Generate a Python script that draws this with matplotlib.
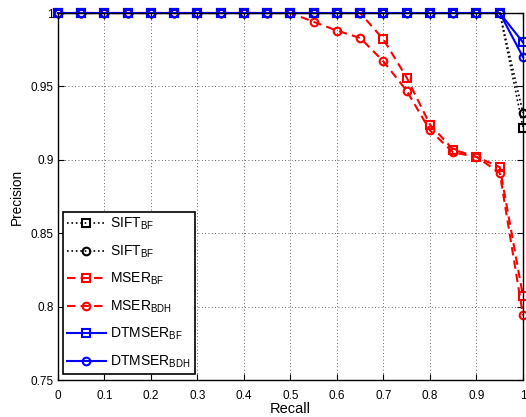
import matplotlib
matplotlib.use("Agg")
import matplotlib.pyplot as plt
from matplotlib.ticker import FuncFormatter

plt.rcParams['font.family'] = ['Liberation Sans', 'DejaVu Sans']
plt.rcParams['mathtext.fontset'] = 'custom'
plt.rcParams['mathtext.rm'] = 'Liberation Sans'
plt.rcParams['mathtext.it'] = 'Liberation Sans'

recall = [0, 0.05, 0.1, 0.15, 0.2, 0.25, 0.3, 0.35, 0.4, 0.45, 0.5,
          0.55, 0.6, 0.65, 0.7, 0.75, 0.8, 0.85, 0.9, 0.95, 1]

sift_bf = [1, 1, 1, 1, 1, 1, 1, 1, 1, 1, 1, 1, 1, 1, 1, 1, 1, 1, 1, 1, 0.922]
sift_bdh = [1, 1, 1, 1, 1, 1, 1, 1, 1, 1, 1, 1, 1, 1, 1, 1, 1, 1, 1, 1, 0.932]
mser_bf = [1, 1, 1, 1, 1, 1, 1, 1, 1, 1, 1, 1, 1, 1,
           0.982, 0.956, 0.924, 0.907, 0.902, 0.895, 0.807]
mser_bdh = [1, 1, 1, 1, 1, 1, 1, 1, 1, 1, 1,
            0.994, 0.988, 0.983, 0.967, 0.947, 0.920, 0.905, 0.902, 0.891, 0.794]
dtmser_bf = [1, 1, 1, 1, 1, 1, 1, 1, 1, 1, 1, 1, 1, 1, 1, 1, 1, 1, 1, 1, 0.980]
dtmser_bdh = [1, 1, 1, 1, 1, 1, 1, 1, 1, 1, 1, 1, 1, 1, 1, 1, 1, 1, 1, 1, 0.970]

labels = [r'SIFT$_{\mathrm{BF}}$', r'SIFT$_{\mathrm{BF}}$',
          r'MSER$_{\mathrm{BF}}$', r'MSER$_{\mathrm{BDH}}$',
          r'DTMSER$_{\mathrm{BF}}$', r'DTMSER$_{\mathrm{BDH}}$']

fig = plt.figure(figsize=(5.26, 4.17), dpi=100)
ax = fig.add_axes([0.110, 0.0887, 0.8843, 0.8801])

common = dict(markersize=5.5, markeredgewidth=1.5, markerfacecolor='none', clip_on=False)
ax.plot(recall, sift_bf, color='k', linestyle=':', linewidth=1.2, marker='s', label=labels[0], **common)
ax.plot(recall, sift_bdh, color='k', linestyle=':', linewidth=1.2, marker='o', label=labels[1], **common)
ax.plot(recall, mser_bf, color='r', linestyle='--', dashes=(4, 2.5), linewidth=1.5, marker='s', label=labels[2], **common)
ax.plot(recall, mser_bdh, color='r', linestyle='--', dashes=(4, 2.5), linewidth=1.5, marker='o', label=labels[3], **common)
ax.plot(recall, dtmser_bf, color='b', linestyle='-', linewidth=1.5, marker='s', label=labels[4], **common)
ax.plot(recall, dtmser_bdh, color='b', linestyle='-', linewidth=1.5, marker='o', label=labels[5], **common)

ax.set_xlim(0, 1)
ax.set_ylim(0.75, 1)
ax.set_xticks([0, 0.1, 0.2, 0.3, 0.4, 0.5, 0.6, 0.7, 0.8, 0.9, 1])
ax.set_yticks([0.75, 0.8, 0.85, 0.9, 0.95, 1])
fmt = FuncFormatter(lambda v, p: '%g' % round(v, 2))
ax.xaxis.set_major_formatter(fmt)
ax.yaxis.set_major_formatter(fmt)
ax.tick_params(direction='in', length=4, width=0.8, labelsize=8.5, top=True, right=True)
ax.tick_params(axis='x', pad=7)
ax.tick_params(axis='y', pad=3)
ax.grid(True, linestyle=(0, (1, 3)), color='#333333', linewidth=0.6)
for s in ax.spines.values():
    s.set_linewidth(1.0)

ax.set_xlabel('Recall', fontsize=10.5, labelpad=0)
ax.set_ylabel('Precision', fontsize=9.8, labelpad=5)

leg = ax.legend(loc='lower left', bbox_to_anchor=(0.0108, 0.016), borderaxespad=0,
                fontsize=10, fancybox=False, framealpha=1, edgecolor='k',
                handlelength=2.8, labelspacing=0.8, borderpad=0.3, handletextpad=0.3)
leg.get_frame().set_linewidth(1.2)

fig.savefig('out.png', dpi=100)
